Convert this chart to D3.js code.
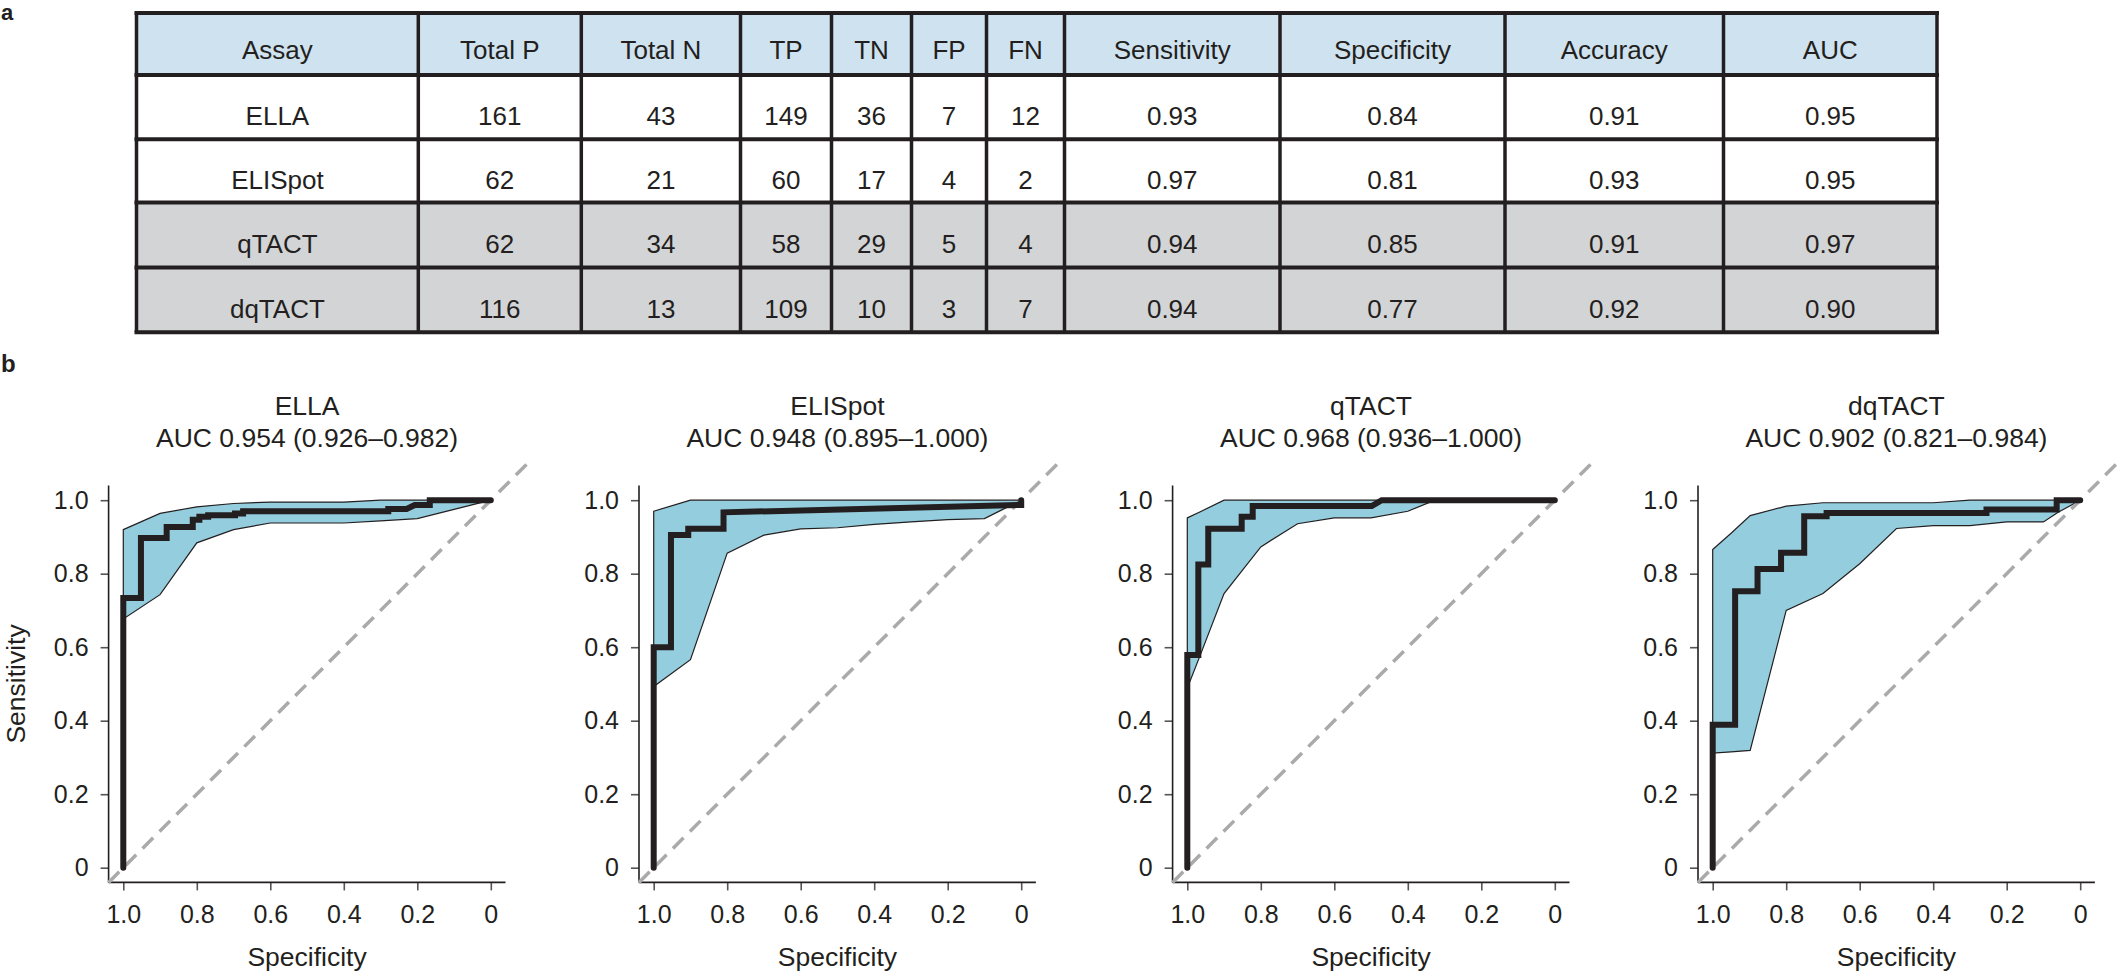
<!DOCTYPE html>
<html>
<head>
<meta charset="utf-8">
<script src="https://cdn.jsdelivr.net/npm/d3@7"></script>
<style>
  body { margin: 0; background: #fff; }
  text { font-family: "Liberation Sans", Arial, sans-serif; fill: #231f20; }
</style>
</head>
<body>
<div id="chart"></div>
<script>
// ---- panel a: table values ----
const tableHeaders = ["Assay", "Total P", "Total N", "TP", "TN", "FP", "FN", "Sensitivity", "Specificity", "Accuracy", "AUC"];
const assays = ["ELLA", "ELISpot", "qTACT", "dqTACT"];
const totalP = [161, 62, 62, 116];
const totalN = [43, 21, 34, 13];
const tp = [149, 60, 58, 109];
const tn = [36, 17, 29, 10];
const fp = [7, 4, 5, 3];
const fn = [12, 2, 4, 7];
const sensitivity = [0.93, 0.97, 0.94, 0.94];
const specificity = [0.84, 0.81, 0.85, 0.77];
const accuracy = [0.91, 0.93, 0.91, 0.92];
const auc = [0.95, 0.95, 0.97, 0.90];

// ---- panel b: ROC curves ----
const panelTitles = ["ELLA", "ELISpot", "qTACT", "dqTACT"];
const aucLabels = ["AUC 0.954 (0.926–0.982)", "AUC 0.948 (0.895–1.000)", "AUC 0.968 (0.936–1.000)", "AUC 0.902 (0.821–0.984)"];
const axisTicks = [0, 0.2, 0.4, 0.6, 0.8, 1];

// curve vertices (specificity, sensitivity)
const ellaSpec = [1, 1, 0.952, 0.952, 0.882, 0.882, 0.811, 0.811, 0.793, 0.793, 0.769, 0.769, 0.696, 0.696, 0.674, 0.674, 0.279, 0.279, 0.229, 0.207, 0.166, 0.166, 0];
const ellaSens = [0, 0.734, 0.734, 0.897, 0.897, 0.927, 0.927, 0.947, 0.947, 0.955, 0.955, 0.959, 0.959, 0.964, 0.964, 0.970, 0.970, 0.976, 0.976, 0.987, 0.987, 1, 1];
const elispotSpec = [1, 1, 0.953, 0.953, 0.906, 0.906, 0.810, 0.810, 0, 0];
const elispotSens = [0, 0.600, 0.600, 0.905, 0.905, 0.922, 0.922, 0.967, 0.987, 1];
const qtactSpec = [1, 1, 0.970, 0.970, 0.943, 0.943, 0.852, 0.852, 0.822, 0.822, 0.498, 0.471, 0];
const qtactSens = [0, 0.579, 0.579, 0.825, 0.825, 0.922, 0.922, 0.955, 0.955, 0.984, 0.984, 1, 1];
const dqtactSpec = [1, 1, 0.939, 0.939, 0.878, 0.878, 0.814, 0.814, 0.751, 0.751, 0.690, 0.690, 0.255, 0.255, 0.064, 0.064, 0];
const dqtactSens = [0, 0.389, 0.389, 0.752, 0.752, 0.813, 0.813, 0.857, 0.857, 0.956, 0.956, 0.965, 0.965, 0.975, 0.975, 1, 1];

// confidence bands of sensitivity
const ellaBandSpec = [1, 0.9, 0.8, 0.7, 0.6, 0.5, 0.4, 0.3, 0.2, 0.1, 0];
const ellaBandLo = [0.677, 0.743, 0.884, 0.920, 0.938, 0.938, 0.938, 0.944, 0.950, 0.975, 1];
const ellaBandHi = [0.920, 0.964, 0.982, 0.991, 0.995, 0.995, 0.995, 1, 1, 1, 1];
const elispotBandSpec = [1, 0.9, 0.8, 0.7, 0.6, 0.5, 0.4, 0.3, 0.2, 0.1, 0.05, 0];
const elispotBandLo = [0.493, 0.566, 0.856, 0.905, 0.922, 0.925, 0.934, 0.941, 0.947, 0.950, 0.975, 1];
const elispotBandHi = [0.970, 1, 1, 1, 1, 1, 1, 1, 1, 1, 1, 1];
const qtactBandSpec = [1, 0.966, 0.9, 0.8, 0.7, 0.6, 0.5, 0.4, 0.326, 0.2, 0.1, 0];
const qtactBandLo = [0.489, 0.575, 0.746, 0.873, 0.936, 0.952, 0.952, 0.970, 1, 1, 1, 1];
const qtactBandHi = [0.952, 0.968, 1, 1, 1, 1, 1, 1, 1, 1, 1, 1];
const dqtactBandSpec = [1, 0.95, 0.898, 0.8, 0.7, 0.6, 0.5, 0.4, 0.3, 0.2, 0.1, 0.06, 0];
const dqtactBandLo = [0.312, 0.315, 0.319, 0.700, 0.746, 0.827, 0.923, 0.931, 0.931, 0.941, 0.941, 0.967, 1];
const dqtactBandHi = [0.866, 0.910, 0.958, 0.984, 0.993, 0.993, 0.993, 0.993, 1, 1, 1, 1, 1];

const curves = [
  {spec: ellaSpec, sens: ellaSens, bSpec: ellaBandSpec, lo: ellaBandLo, hi: ellaBandHi},
  {spec: elispotSpec, sens: elispotSens, bSpec: elispotBandSpec, lo: elispotBandLo, hi: elispotBandHi},
  {spec: qtactSpec, sens: qtactSens, bSpec: qtactBandSpec, lo: qtactBandLo, hi: qtactBandHi},
  {spec: dqtactSpec, sens: dqtactSens, bSpec: dqtactBandSpec, lo: dqtactBandLo, hi: dqtactBandHi}
];

const ink = "#231f20";
const svg = d3.select("#chart").append("svg")
  .attr("width", 2119)
  .attr("height", 973);

// panel letters
svg.append("text").attr("x", 1).attr("y", 20).attr("font-size", 22).attr("font-weight", "bold").text("a");
svg.append("text").attr("x", 1).attr("y", 372).attr("font-size", 24).attr("font-weight", "bold").text("b");

// ---- table ----
const colEdges = [136.5, 418.3, 581.3, 740.5, 831.5, 911.5, 986.5, 1064.5, 1280, 1505, 1723.5, 1937];
const rowEdges = [13, 75, 139.3, 202.5, 267.6, 332.3];
const rowFill = ["#cfe2ef", "#ffffff", "#ffffff", "#d3d4d6", "#d3d4d6"];

const rows = [tableHeaders].concat(assays.map((a, i) => [
  a, totalP[i], totalN[i], tp[i], tn[i], fp[i], fn[i],
  sensitivity[i].toFixed(2), specificity[i].toFixed(2), accuracy[i].toFixed(2), auc[i].toFixed(2)
]));

const table = svg.append("g");
table.selectAll("rect.row")
  .data(rows)
  .join("rect")
    .attr("class", "row")
    .attr("x", colEdges[0])
    .attr("y", (d, i) => rowEdges[i])
    .attr("width", colEdges[colEdges.length - 1] - colEdges[0])
    .attr("height", (d, i) => rowEdges[i + 1] - rowEdges[i])
    .attr("fill", (d, i) => rowFill[i]);

rows.forEach((r, i) => {
  table.append("g").selectAll("text")
    .data(r)
    .join("text")
      .attr("x", (d, j) => (colEdges[j] + colEdges[j + 1]) / 2)
      .attr("y", i === 0 ? rowEdges[0] + 46 : rowEdges[i] + 50)
      .attr("text-anchor", "middle")
      .attr("font-size", 26)
      .text(d => d);
});

table.selectAll("line.h")
  .data(rowEdges)
  .join("line")
    .attr("class", "h")
    .attr("x1", colEdges[0] - 2).attr("x2", colEdges[colEdges.length - 1] + 2)
    .attr("y1", d => d).attr("y2", d => d)
    .attr("stroke", ink).attr("stroke-width", 4);
table.selectAll("line.v")
  .data(colEdges)
  .join("line")
    .attr("class", "v")
    .attr("x1", d => d).attr("x2", d => d)
    .attr("y1", rowEdges[0]).attr("y2", rowEdges[rowEdges.length - 1])
    .attr("stroke", ink).attr("stroke-width", 3.5);

// ---- ROC panels ----
const panelX0 = [123.3, 653.7, 1187.3, 1712.7];
const unit = 367.5;
const yBase = 867.7;
const fmt = d => d === 0 ? "0" : d.toFixed(1);

curves.forEach((c, i) => {
  const x = d3.scaleLinear().domain([1, 0]).range([panelX0[i], panelX0[i] + unit]);
  const y = d3.scaleLinear().domain([0, 1]).range([yBase, yBase - unit]);
  const g = svg.append("g");

  // x axis
  const gx = g.append("g")
    .attr("transform", `translate(0,${y(-0.04)})`)
    .call(d3.axisBottom(x).tickValues(axisTicks).tickFormat(fmt).tickSize(8).tickPadding(14.5).tickSizeOuter(0));
  gx.select(".domain").remove();
  gx.append("line").attr("x1", x(1.04)).attr("x2", x(-0.04)).attr("stroke", ink).attr("stroke-width", 1.6);

  // y axis
  const gy = g.append("g")
    .attr("transform", `translate(${x(1.04)},0)`)
    .call(d3.axisLeft(y).tickValues(axisTicks).tickFormat(fmt).tickSize(8).tickPadding(12).tickSizeOuter(0));
  gy.select(".domain").remove();
  gy.append("line").attr("y1", y(-0.04)).attr("y2", y(1.04)).attr("stroke", ink).attr("stroke-width", 1.6);

  [gx, gy].forEach(a => {
    a.attr("font-family", null).attr("font-size", null);
    a.selectAll(".tick line").attr("stroke", "#555").attr("stroke-width", 1.6);
    a.selectAll(".tick text").attr("fill", ink).attr("font-size", 25);
  });

  // confidence band
  const pts = c.bSpec.map((s, k) => [s, c.hi[k]])
    .concat(c.bSpec.map((s, k) => [s, c.lo[k]]).reverse());
  const line = d3.line().x(d => x(d[0])).y(d => y(d[1]));
  g.append("path")
    .attr("d", line(pts) + "Z")
    .attr("fill", "#94cddd")
    .attr("stroke", ink)
    .attr("stroke-width", 1.2);

  // chance line
  g.append("line")
    .attr("x1", x(1.04)).attr("y1", y(-0.04))
    .attr("x2", x(-0.105)).attr("y2", y(1.105))
    .attr("stroke", "#aaaaaa").attr("stroke-width", 3.5)
    .attr("stroke-dasharray", "15,9");

  // ROC curve
  g.append("path")
    .attr("d", line(c.spec.map((s, k) => [s, c.sens[k]])))
    .attr("fill", "none")
    .attr("stroke", ink)
    .attr("stroke-width", 6)
    .attr("stroke-linecap", "round")
    .attr("stroke-linejoin", "miter");

  // titles
  g.append("text").attr("x", x(0.5)).attr("y", 415).attr("text-anchor", "middle").attr("font-size", 26.5).text(panelTitles[i]);
  g.append("text").attr("x", x(0.5)).attr("y", 447).attr("text-anchor", "middle").attr("font-size", 26.5).text(aucLabels[i]);

  g.append("text").attr("x", x(0.5)).attr("y", 966).attr("text-anchor", "middle").attr("font-size", 26.5).text("Specificity");
  if (i === 0) {
    g.append("text")
      .attr("transform", `translate(25,${y(0.5)}) rotate(-90)`)
      .attr("text-anchor", "middle").attr("font-size", 26.5).text("Sensitivity");
  }
});
</script>
</body>
</html>
